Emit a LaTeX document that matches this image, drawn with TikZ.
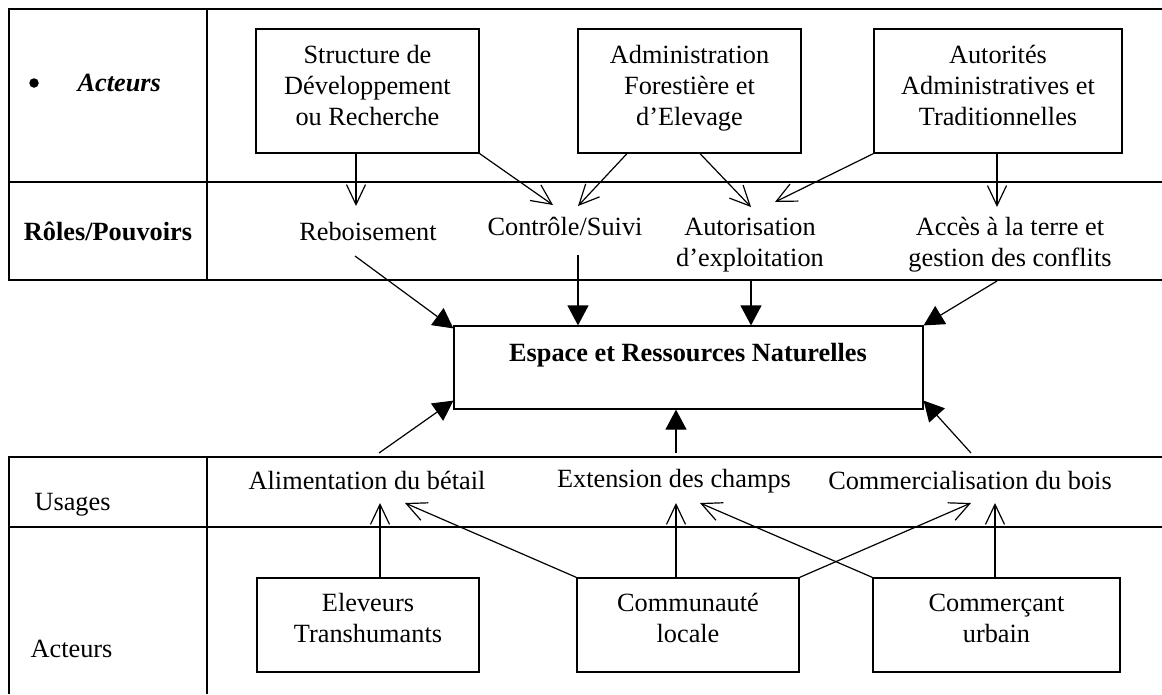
\documentclass[tikz,border=0pt]{standalone}
\usepackage{fontspec}
\setmainfont{Liberation Serif}
\usetikzlibrary{arrows.meta}
\begin{document}
\begin{tikzpicture}[x=1pt,y=-1pt, line width=1.2pt,
  every node/.style={font=\fontsize{26.3}{31}\selectfont, inner sep=0pt},
  box/.style={draw, line width=1.2pt},
  lbl/.style={align=center, anchor=base},
  opena/.style={-{Straight Barb[length=20pt,width=19pt]}},
  filla/.style={-{Triangle[length=20pt,width=21pt]}}]
\useasboundingbox (0,0) rectangle (1162,694);
% tables
\draw (1162,9) -- (9,9) -- (9,280) -- (1162,280);
\draw (9,182) -- (1162,182);
\draw (207,9) -- (207,280);
\draw (9,694) -- (9,457) -- (1162,457);
\draw (9,527) -- (1162,527);
\draw (207,457) -- (207,694);
% left column texts
\node[circle, fill, minimum size=9.5pt] (bul) at (34,83) {};
\node[anchor=base west] (act1) at (77,91) {\textbf{\textit{Acteurs}}};
\node[anchor=base] (roles) at (108,240) {\textbf{Rôles/Pouvoirs}};
\node[anchor=base west] (usg) at (34,510) {Usages};
\node[anchor=base west] (act2) at (30,657) {Acteurs};
% top boxes
\node[box, minimum width=223pt, minimum height=124pt] (b1) at (367.5,91) {};
\node[lbl] (b1t) at (367.5,125) {Structure de\\Développement\\ou Recherche};
\node[box, minimum width=223pt, minimum height=124pt] (b2) at (689.5,91) {};
\node[lbl] (b2t) at (689.5,125) {Administration\\Forestière et\\d’Elevage};
\node[box, minimum width=248pt, minimum height=124pt] (b3) at (998,91) {};
\node[lbl] (b3t) at (998,125) {Autorités\\Administratives et\\Traditionnelles};
% roles
\node[lbl] (reb) at (368,240) {Reboisement};
\node[lbl] (ctl) at (565,235) {Contrôle/Suivi};
\node[lbl] (aut) at (750,266) {Autorisation\\d’exploitation};
\node[lbl] (acc) at (1010,266) {Accès à la terre et\\gestion des conflits};
% central box
\node[box, minimum width=469pt, minimum height=83pt] (esp) at (688.5,367.5) {};
\node[anchor=base] (espt) at (688,361) {\textbf{Espace et Ressources Naturelles}};
% usages
\node[lbl] (alim) at (367,489) {Alimentation du bétail};
\node[lbl] (ext) at (674,487) {Extension des champs};
\node[lbl] (com) at (970,489) {Commercialisation du bois};
% bottom boxes
\node[box, minimum width=222pt, minimum height=94pt] (elev) at (368,625) {};
\node[lbl] (elevt) at (368,642) {Eleveurs\\Transhumants};
\node[box, minimum width=222pt, minimum height=94pt] (comm) at (688,625) {};
\node[lbl] (commt) at (688,642) {Communauté\\locale};
\node[box, minimum width=247pt, minimum height=94pt] (cu) at (996.5,625) {};
\node[lbl] (cut) at (996.5,642) {Commerçant\\urbain};
% connector ends near labels
\coordinate (rebIn) at (356,206);
\coordinate (ctlInL) at (553,205);
\coordinate (ctlInR) at (578,206);
\coordinate (autInL) at (751,207);
\coordinate (autInR) at (775,202);
\coordinate (accIn) at (997,207);
\coordinate (rebOut) at (355,256);
\coordinate (ctlOut) at (578,255);
\coordinate (autOut) at (751,281);
\coordinate (accOut) at (997,281);
\coordinate (alimOut) at (379,453);
\coordinate (extOut) at (676,453);
\coordinate (comOut) at (971,453);
\coordinate (alimInL) at (380,503);
\coordinate (alimInR) at (405,503);
\coordinate (extInL) at (676,503);
\coordinate (extInR) at (700,503);
\coordinate (comInL) at (971,503);
\coordinate (comInR) at (995,503);
% actors -> roles
\draw[opena] ([xshift=-11.5pt]b1.south) -- (rebIn);
\draw[opena] (b1.south east) -- (ctlInL);
\draw[opena] ([xshift=-62.5pt]b2.south) -- (ctlInR);
\draw[opena] ([xshift=10.5pt]b2.south) -- (autInL);
\draw[opena] (b3.south west) -- (autInR);
\draw[opena] ([xshift=-1pt]b3.south) -- (accIn);
% roles -> espace
\draw[filla] (rebOut) -- ([yshift=-3pt]esp.north west);
\draw[filla] (ctlOut) -- ([xshift=-110.5pt]esp.north);
\draw[filla] (autOut) -- ([xshift=62.5pt]esp.north);
\draw[filla] (accOut) -- (esp.north east);
% usages -> espace
\draw[filla] (alimOut) -- ([yshift=9pt]esp.south west);
\draw[filla] (extOut) -- ([xshift=-12.5pt]esp.south);
\draw[filla] (comOut) -- ([yshift=9pt]esp.south east);
% actors -> usages
\draw[opena] ([xshift=12pt]elev.north) -- (alimInL);
\draw[opena] (comm.north west) -- (alimInR);
\draw[opena] ([xshift=-12pt]comm.north) -- (extInL);
\draw[opena] (comm.north east) -- (comInL);
\draw[opena] (cu.north west) -- (extInR);
\draw[opena] ([xshift=-1.5pt]cu.north) -- (comInR);
\end{tikzpicture}
\end{document}
